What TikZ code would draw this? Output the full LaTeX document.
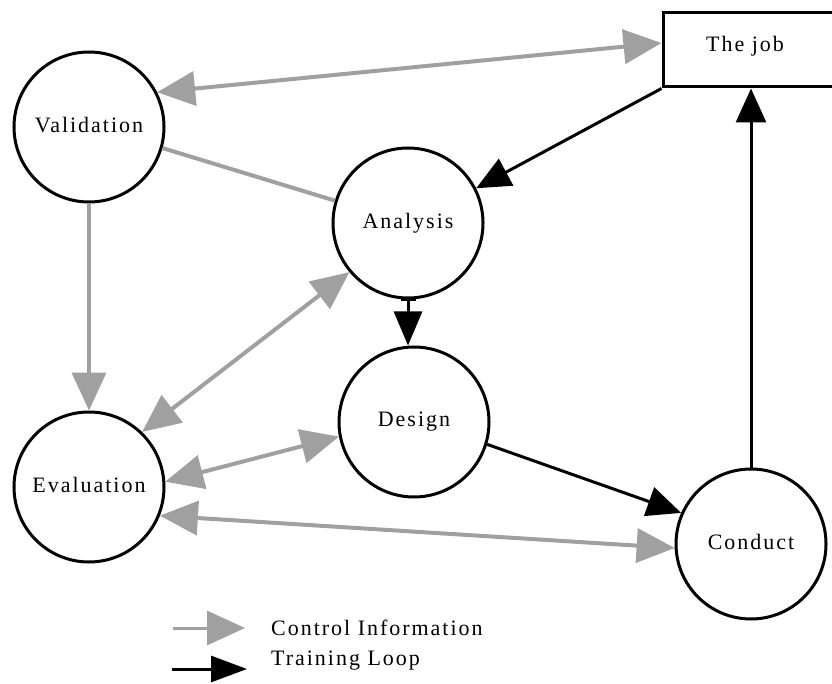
\documentclass[tikz,border=0pt]{standalone}
\usepackage{fontspec}
\setmainfont{Liberation Serif}[LetterSpace=9]
\usetikzlibrary{arrows.meta}
\definecolor{ctrlgray}{RGB}{160,160,160}
\begin{document}
\begin{tikzpicture}[x=1pt,y=-1pt,
  every node/.style={font=\fontsize{22}{26}\selectfont},
  stage/.style={circle,draw,line width=3pt,minimum size=150pt,inner sep=0pt},
  ctrl/.style={draw=ctrlgray,line width=4pt,{Triangle[length=38pt,width=34pt]}-{Triangle[length=38pt,width=34pt]}},
  ctrlone/.style={draw=ctrlgray,line width=4pt,-{Triangle[length=38pt,width=34pt]}},
  ctrlline/.style={draw=ctrlgray,line width=4pt},
  loop/.style={draw=black,line width=3pt,-{Triangle[length=34pt,width=30pt]}}
]
\useasboundingbox (0,0) rectangle (832,684);

\node[stage] (val) at (89,127) {\raisebox{4pt}{Validation}};
\node[stage] (ana) at (408,223) {Analysis};
\node[stage] (des) at (414,422) {\raisebox{4pt}{Design}};
\node[stage] (eva) at (89,487) {\raisebox{4pt}{Evaluation}};
\node[stage] (con) at (751,544) {\raisebox{4pt}{Conduct}};
\node[draw,line width=3pt,minimum width=171pt,minimum height=74pt,inner sep=0pt] (job) at (748.5,50) {};
\node (jobtxt) at (745,46) {The job};

% control information
\draw[ctrl] (val.27) -- ([yshift=7pt]job.west);
\draw[ctrlline] (val.-16) -- (ana.163);
\draw[ctrlone] (val.south) -- (eva.north);
\draw[ctrl] (eva.46) -- (ana.220);
\draw[ctrl] (eva.4) -- (des.191);
\draw[ctrl] (eva.-22) -- (con.183);

% training loop
\draw[loop] (job.south west) -- (ana.27);
\draw[loop,{Bar[width=15pt,line width=2pt]}-{Triangle[length=34pt,width=28pt]}] (ana.south) -- (ana.south |- des.north);
\draw[loop] (des.-17) -- (con.156);
\draw[loop] (con.north) -- (con.north |- job.south);

% legend
\coordinate (l1a) at (173,628);
\coordinate (l1b) at (245,628);
\draw[ctrlone,line width=3pt] (l1a) -- (l1b);
\node[anchor=base west,inner sep=0pt] (l1t) at (271,635) {Control Information};
\coordinate (l2a) at (172,669);
\coordinate (l2b) at (247,669);
\draw[loop,-{Triangle[length=36pt,width=26pt]}] (l2a) -- (l2b);
\node[anchor=base west,inner sep=0pt] (l2t) at (271,665) {Training Loop};
\end{tikzpicture}
\end{document}
